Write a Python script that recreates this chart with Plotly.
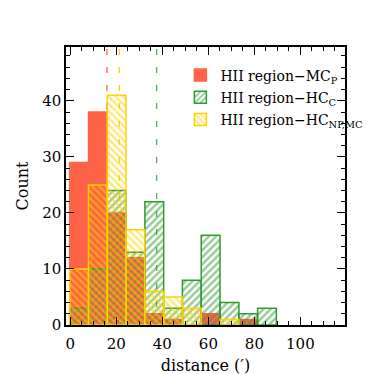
import plotly.graph_objects as go

# ---- data ----
bin_left = [-0.3, 7.9, 16.0, 24.2, 32.4, 40.6, 48.7, 56.9, 65.1, 73.2, 81.4]
bin_width = 8.17
counts_mcp = [29, 38, 20, 12, 2, 1, 0, 2, 0, 1, 0]
counts_hcc = [3, 10, 24, 13, 22, 3, 8, 16, 4, 2, 3]
counts_hcnp = [10, 25, 41, 17, 6, 5, 3, 0, 1, 0, 0]
medians = [15.9, 21.3, 37.5]
names = ["HII region\u2212MC<sub>P</sub>",
         "HII region\u2212HC<sub>C</sub>",
         "HII region\u2212HC<sub>NP,MC</sub>"]

RED = "#FF6347"
GREEN = "#339933"
YELLOW = "#FFD200"
FONT = "DejaVu Serif"


def nz(vals):
    return [v if v else None for v in vals]


fig = go.Figure()

fig.add_trace(go.Bar(
    x=bin_left, y=nz(counts_mcp), width=bin_width, offset=0, name=names[0],
    legendgroup="a",
    marker=dict(color=RED, line=dict(color=RED, width=1.5)),
))
fig.add_trace(go.Bar(
    x=bin_left, y=nz(counts_hcc), width=bin_width, offset=0, name=names[1],
    legendgroup="b",
    marker=dict(color="rgba(0,0,0,0)", line=dict(color=GREEN, width=1.5),
                pattern=dict(shape="/", fgcolor=GREEN, bgcolor="rgba(0,0,0,0)",
                             fillmode="overlay", size=5, solidity=0.5)),
))
fig.add_trace(go.Bar(
    x=bin_left, y=nz(counts_hcnp), width=bin_width, offset=0, name=names[2],
    legendgroup="c",
    marker=dict(color="rgba(0,0,0,0)", line=dict(color=YELLOW, width=1.5),
                pattern=dict(shape="\\", fgcolor=YELLOW, bgcolor="rgba(0,0,0,0)",
                             fillmode="overlay", size=5, solidity=0.5)),
))

for m, c in zip(medians, [RED, YELLOW, "#4CAF50"]):
    fig.add_shape(type="line", x0=m, x1=m, y0=0, y1=49.6, xref="x", yref="y",
                  line=dict(color=c, width=1.3, dash="6px,12px"), layer="below")

axis_common = dict(
    showline=True, linecolor="black", linewidth=1.5, mirror="allticks",
    ticks="inside", ticklen=8, tickwidth=1.2, tickcolor="black",
    showgrid=False, zeroline=False, automargin=False,
    tickfont=dict(family=FONT, size=15, color="black"),
)

fig.update_xaxes(range=[-1.9, 119.4], dtick=20, tick0=0, ticklabelstandoff=4,
                 minor=dict(dtick=5, ticks="inside", ticklen=4, tickcolor="black", showgrid=False),
                 title=dict(text="distance (\u2032)", font=dict(family=FONT, size=16, color="black"), standoff=8),
                 **axis_common)
fig.update_yaxes(range=[0, 49.6], dtick=10, tick0=0,
                 minor=dict(dtick=2, ticks="inside", ticklen=4, tickcolor="black", showgrid=False),
                 title=dict(text="Count", font=dict(family=FONT, size=16, color="black"), standoff=10),
                 **axis_common)

fig.update_layout(
    width=374, height=374,
    margin=dict(l=58, r=37, t=39, b=57),
    barmode="overlay",
    plot_bgcolor="white", paper_bgcolor="white",
    showlegend=True,
    legend=dict(x=0.41, y=0.955, xanchor="left", yanchor="top",
                bgcolor="rgba(0,0,0,0)", borderwidth=0,
                font=dict(family=FONT, size=14, color="black"),
                itemwidth=30, tracegroupgap=1),
)

fig.write_html("out.html")
